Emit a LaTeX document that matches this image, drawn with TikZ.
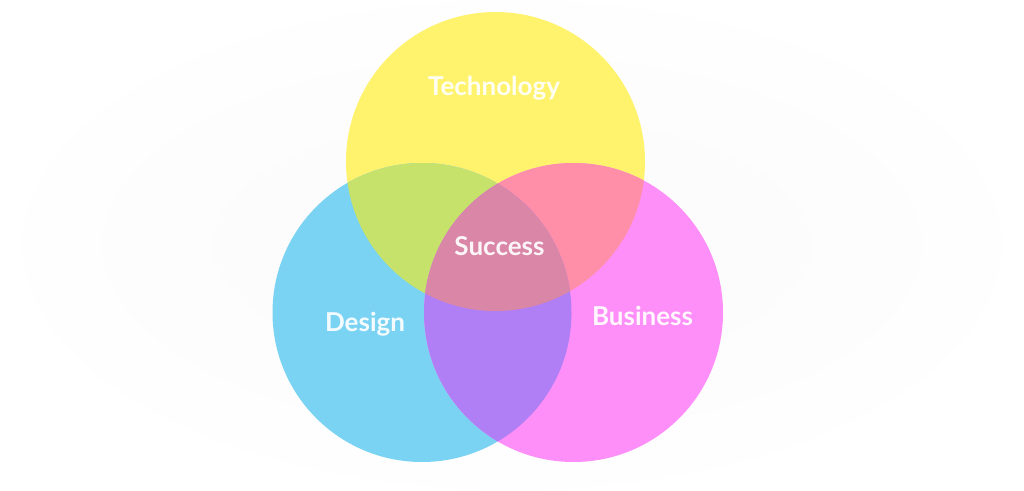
\documentclass[tikz,border=0pt]{standalone}
\usepackage{fontspec}
\setmainfont{Lato}
\usepackage{tikz}
\usetikzlibrary{backgrounds}

\definecolor{techyellow}{RGB}{255,243,110}
\definecolor{designblue}{RGB}{122,211,243}
\definecolor{businesspink}{RGB}{255,143,248}
\definecolor{techdesign}{RGB}{198,226,106}
\definecolor{techbusiness}{RGB}{255,143,168}
\definecolor{designbusiness}{RGB}{176,126,245}
\definecolor{allthree}{RGB}{218,134,166}

\tikzset{
  vlabel/.style={text=white, text opacity=0.92, font=\bfseries\fontsize{26}{30}\selectfont, anchor=base, inner sep=0pt},
  haze/.style={fill=black, fill opacity=0.005}
}

\begin{document}
\begin{tikzpicture}[x=1pt,y=-1pt]
            \fill[white] (0,0) rectangle (1024,490);
            \useasboundingbox (0,0) rectangle (1024,490);
            % faint backdrop
            \fill[haze] (512,245) ellipse (490pt and 245pt);
            \fill[haze] (512,245) ellipse (410pt and 190pt);
            \fill[haze] (512,245) ellipse (300pt and 130pt);
            \coordinate (T) at (495.5,161.5);
            \coordinate (D) at (422,312.5);
            \coordinate (B) at (573.5,312.5);
            \def\rad{149.5pt}
            \fill[techyellow] (T) circle (\rad);
            \fill[designblue] (D) circle (\rad);
            \fill[businesspink] (B) circle (\rad);
            \begin{scope}
              \clip (T) circle (\rad);
              \fill[techdesign] (D) circle (\rad);
              \fill[techbusiness] (B) circle (\rad);
            \end{scope}
            \begin{scope}
              \clip (D) circle (\rad);
              \fill[designbusiness] (B) circle (\rad);
            \end{scope}
            \begin{scope}
              \clip (T) circle (\rad);
              \clip (D) circle (\rad);
              \fill[allthree] (B) circle (\rad);
            \end{scope}
            \node[vlabel] (tech) at (494,95) {Technology};
            \node[vlabel] (succ) at (499.5,255) {Success};
            \node[vlabel] (design) at (365,331) {Design};
            \node[vlabel] (busi) at (642.5,325) {Business};
        \end{tikzpicture}
\end{document}
